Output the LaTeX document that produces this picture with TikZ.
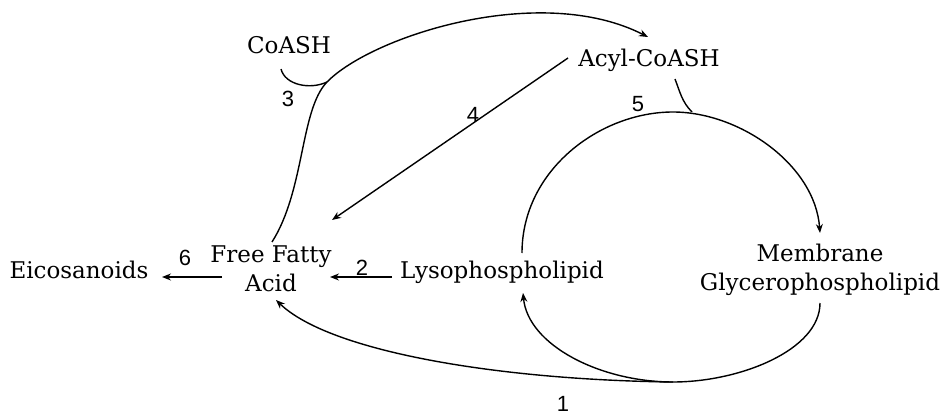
\documentclass[tikz,border=0pt]{standalone}
\usepackage{fontspec}
\setmainfont{DejaVu Serif}
\newfontfamily\numfont{Liberation Sans}
\usetikzlibrary{arrows.meta}
\tikzset{
  lbl/.style={font=\fontsize{23}{29}\selectfont, inner sep=0pt, align=center},
  num/.style={font=\numfont\fontsize{22}{24}\selectfont, inner sep=0pt},
  conn/.style={line width=1.4pt},
  arr/.style={conn, -{Stealth[length=9pt,width=7pt]}}
}
\begin{document}
\begin{tikzpicture}[x=1pt,y=-1pt]
\useasboundingbox (0,0) rectangle (943,420);
% text nodes
\node[lbl] (coash) at (289,45) {CoASH};
\node[lbl] (acyl) at (649,60) {Acyl-CoASH};
\node[lbl] (ffa) at (271,269) {Free Fatty\\Acid};
\node[lbl] (eico) at (79,270) {Eicosanoids};
\node[lbl] (lyso) at (502,272) {Lysophospholipid};
\node[lbl] (memb) at (820,270) {Membrane\\Glycerophospholipid};
% numbers
\node[num] (n1) at (563,404) {1};
\node[num] (n2) at (362,268) {2};
\node[num] (n3) at (288,99) {3};
\node[num] (n4) at (473,115) {4};
\node[num] (n5) at (638,104) {5};
\node[num] (n6) at (185,258) {6};
% connector end points
\coordinate (ffaE) at (222,277);
\coordinate (eicoE) at (162,277);
\coordinate (lysoW) at (392,277);
\coordinate (ffaR) at (330,277);
\coordinate (acylW) at (568,58);
\coordinate (ffaNE) at (332,220);
\coordinate (ffaN) at (272,242);
\coordinate (join3) at (327,82);
\coordinate (acylN) at (648,37);
\coordinate (coashS) at (281,69);
\coordinate (acylS) at (675,79);
\coordinate (top5) at (692,112);
\coordinate (lysoN) at (522,253);
\coordinate (ctop) at (673,112);
\coordinate (membN) at (820,233);
\coordinate (membS) at (820,303);
\coordinate (cbot) at (673,382);
\coordinate (lysoS) at (523,293);
\coordinate (ffaS) at (276,300);
% arrows
\draw[arr] (ffaE) -- (eicoE);
\draw[arr] (lysoW) -- (ffaR);
\draw[arr] (acylW) -- (ffaNE);
\draw[arr] (ffaN) .. controls (305,190) and (300,110) .. (join3)
  .. controls (372,36) and (540,-18) .. (acylN);
\draw[conn] (coashS) .. controls (285,85) and (310,90) .. (join3);
\draw[conn] (acylS) .. controls (680,92) and (682,102) .. (top5);
\draw[arr] (lysoN) .. controls (522,170) and (600,112) .. (ctop)
  .. controls (740,112) and (815,165) .. (membN);
\draw[arr] (membS) .. controls (820,350) and (740,382) .. (cbot)
  .. controls (600,382) and (528,345) .. (lysoS);
\draw[arr] (cbot) .. controls (500,380) and (330,352) .. (ffaS);
\end{tikzpicture}
\end{document}
